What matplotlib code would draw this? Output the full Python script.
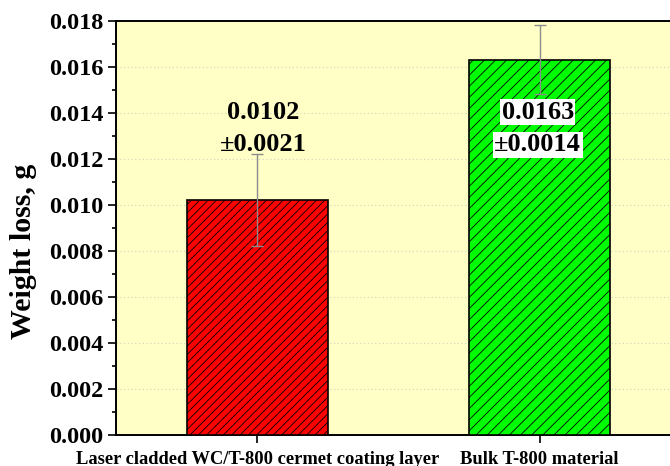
import matplotlib
matplotlib.use("Agg")
import matplotlib.pyplot as plt
from matplotlib.ticker import MultipleLocator, FormatStrFormatter

categories = ["Laser cladded WC/T-800 cermet coating layer", "Bulk T-800 material"]
values = [0.0102, 0.0163]
errors = [0.0020, 0.0015]
mean_labels = ["0.0102", "0.0163"]
err_labels = ["\u00b10.0021", "\u00b10.0014"]
colors = ["#ff0000", "#00ff00"]
hatches = ["////", "///"]

plt.rcParams['font.family'] = ['Liberation Serif', 'DejaVu Serif']
plt.rcParams['font.weight'] = 'bold'
plt.rcParams['hatch.linewidth'] = 0.6

fig = plt.figure(figsize=(6.7, 4.66), dpi=100)
L, R = 116 / 670, 681 / 670
B, T = (466 - 434.7) / 466, (466 - 20.7) / 466
ax = fig.add_axes([L, B, R - L, T - B])
ax.set_facecolor("#ffffc6")

x = list(range(len(categories)))
for i in x:
    ax.bar(i, values[i], width=0.5, color=colors[i], edgecolor="black",
           linewidth=1.2, hatch=hatches[i], zorder=3)
ax.errorbar(x, values, yerr=errors, fmt="none", ecolor="#8c8c8c",
            elinewidth=1.0, capsize=4, capthick=1.0, zorder=4)

ax.set_xlim(-0.5, 1.5)
ax.set_ylim(0, 0.018)
ax.yaxis.set_major_locator(MultipleLocator(0.002))
ax.yaxis.set_minor_locator(MultipleLocator(0.001))
ax.yaxis.set_major_formatter(FormatStrFormatter("%.3f"))
ax.set_xticks(x)
ax.set_xticklabels(categories, fontsize=13.3, fontweight="bold")
for lab in ax.get_yticklabels():
    lab.set_fontsize(17.5)
    lab.set_fontweight("bold")
ax.tick_params(axis="y", which="major", direction="out", length=6, width=1.2, pad=3)
ax.tick_params(axis="y", which="minor", direction="out", length=3, width=1.2)
ax.tick_params(axis="x", which="major", direction="out", length=6, width=1.2, pad=6)
ax.grid(axis="y", which="major", linestyle=(0, (1, 2)), color="#d8d8c0",
        linewidth=0.9, zorder=0)
for s in ["left", "bottom", "top"]:
    ax.spines[s].set_linewidth(1.4)
ax.spines["right"].set_visible(False)

ax.set_ylabel("Weight loss, g", fontsize=21.5, fontweight="bold")
ax.yaxis.set_label_coords(-0.14, 0.444)

# value annotations
offs = [0.021, -0.007]
for i in x:
    bb = None if i == 0 else dict(facecolor="white", edgecolor="none", pad=1.0)
    ax.text(i + offs[i], 0.01403, mean_labels[i], ha="center", va="center",
            fontsize=19, fontweight="bold", bbox=bb, zorder=5)
    ax.text(i + offs[i], 0.01260, err_labels[i], ha="center", va="center",
            fontsize=19, fontweight="bold", bbox=bb, zorder=5)

fig.savefig("out.png", dpi=100)
